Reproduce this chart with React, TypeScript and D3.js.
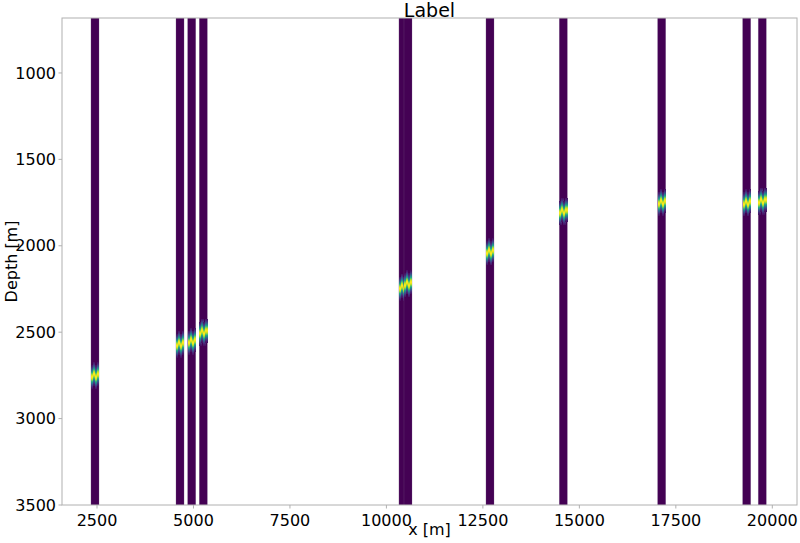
import React from 'react'
import * as d3 from 'd3'

// well positions along the profile [m]
const wellX = [2448, 4651, 4954, 5255, 10429, 10559, 12684, 14584, 17133, 19336, 19740]
// depth of the bright reflector in each well [m]
const peakDepth = [2749, 2568, 2551, 2498, 2238, 2218, 2033, 1800, 1747, 1750, 1740]

const xTicks = [2500, 5000, 7500, 10000, 12500, 15000, 17500, 20000]
const yTicks = [1000, 1500, 2000, 2500, 3000, 3500]

const W = 800
const H = 543
const margin = { top: 18, right: 3, bottom: 38, left: 62 }

export default function App() {
  const innerW = W - margin.left - margin.right
  const innerH = H - margin.top - margin.bottom

  const x = d3.scaleLinear().domain([1593, 20640]).range([0, innerW])
  const y = d3.scaleLinear().domain([682, 3500]).range([0, innerH])

  const wellWidth = 208 // metres
  const zig = [1.8, -1.2, 1.8, -1.2] // px wiggle per sub-column
  const spread = 12 // px half-height of the bright band

  const base = d3.interpolateViridis(0)
  const stops = d3.range(0, 1.0001, 0.05).map(t => {
    const z = (t - 0.5) * 2 * 2.2
    return { t, c: d3.interpolateViridis(Math.exp(-z * z / 1.5)) }
  })

  const font = 'DejaVu Sans, sans-serif'
  const spine = '#b0b0b0'

  return (
    <svg width={W} height={H} style={{ position: 'absolute', left: 0, top: 0, background: '#fff' }}>
      <defs>
        {wellX.map((wx, i) =>
          zig.map((dz, j) => {
            const py = y(peakDepth[i]) + dz
            return (
              <linearGradient key={`g${i}-${j}`} id={`g${i}-${j}`} gradientUnits="userSpaceOnUse"
                x1={0} x2={0} y1={py - spread} y2={py + spread}>
                {stops.map(s => (
                  <stop key={s.t} offset={s.t} stopColor={s.c} />
                ))}
              </linearGradient>
            )
          })
        )}
        <clipPath id="plot">
          <rect width={innerW} height={innerH} />
        </clipPath>
      </defs>
      <g transform={`translate(${margin.left},${margin.top})`}>
        <g clipPath="url(#plot)">
          {wellX.map((wx, i) => {
            const x0 = x(wx - wellWidth / 2)
            const bw = x(wx + wellWidth / 2) - x0
            const cw = bw / zig.length
            const py = y(peakDepth[i])
            return (
              <g key={i}>
                <rect x={x0} y={0} width={bw} height={innerH} fill={base}
                  stroke="#7d5f8c" strokeOpacity={0.45} strokeWidth={0.6} />
                {zig.map((dz, j) => (
                  <rect key={j} x={x0 + j * cw} y={py + dz - spread} width={cw + 0.4} height={spread * 2}
                    fill={`url(#g${i}-${j})`} shapeRendering="crispEdges" />
                ))}
              </g>
            )
          })}
        </g>
        <rect width={innerW} height={innerH} fill="none" stroke={spine} strokeWidth={1} />
        {xTicks.map(t => (
          <g key={t} transform={`translate(${x(t)},${innerH})`}>
            <line y2={3.5} stroke={spine} />
            <text y={21} textAnchor="middle" fontFamily={font} fontSize={16} fill="#000">{t}</text>
          </g>
        ))}
        {yTicks.map(t => (
          <g key={t} transform={`translate(0,${y(t)})`}>
            <line x2={-3.5} stroke={spine} />
            <text x={-6} dy="0.35em" textAnchor="end" fontFamily={font} fontSize={16} fill="#000">{t}</text>
          </g>
        ))}
        <text x={innerW / 2} y={innerH + 30} textAnchor="middle" fontFamily={font} fontSize={16}>x [m]</text>
        <text transform={`translate(${-45},${innerH / 2}) rotate(-90)`} textAnchor="middle"
          fontFamily={font} fontSize={16}>Depth [m]</text>
        <text x={innerW / 2} y={-1} textAnchor="middle" fontFamily={font} fontSize={19}>Label</text>
      </g>
    </svg>
  )
}
